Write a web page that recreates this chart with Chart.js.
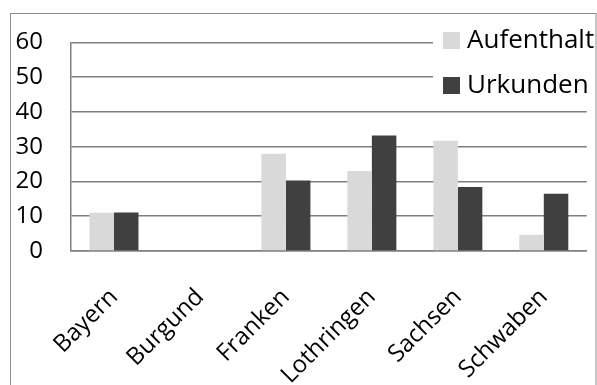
<!DOCTYPE html>
<html>
<head>
<meta charset="utf-8">
<script src="https://cdn.jsdelivr.net/npm/chart.js@4"></script>
<style>
  html, body { margin: 0; padding: 0; background: #fff; }
  #wrap { position: relative; width: 597px; height: 385px; }
</style>
</head>
<body>
<div id="wrap"><canvas id="c" width="597" height="385"></canvas></div>
<script>
// Regions and their two series (share of stays vs. share of charters)
const categories = ['Bayern', 'Burgund', 'Franken', 'Lothringen', 'Sachsen', 'Schwaben'];
const aufenthalt = [11, 0, 28, 23, 31.7, 4.7];
const urkunden = [11.1, 0, 20.3, 33.2, 18.4, 16.5];
const seriesNames = ['Aufenthalt', 'Urkunden'];
const yTicks = [0, 10, 20, 30, 40, 50, 60];

const FONT = '"Open Sans", "Noto Sans", sans-serif';
const LIGHT = '#d9d9d9';
const DARK = '#404040';
const GRID = '#7f7f7f';

// Outer frame around the whole chart
const framePlugin = {
  id: 'frame',
  beforeDraw(chart) {
    const ctx = chart.ctx;
    ctx.save();
    ctx.fillStyle = '#fff';
    ctx.fillRect(0, 0, chart.width, chart.height);
    ctx.strokeStyle = '#8c8c8c';
    ctx.lineWidth = 1;
    ctx.strokeRect(10.5, 13.5, 585.5, 400);
    ctx.restore();
  }
};

// Legend box in the upper-right corner, drawn over the grid
const cornerLegend = {
  id: 'cornerLegend',
  afterDatasetsDraw(chart) {
    const ctx = chart.ctx;
    const ds = chart.data.datasets;
    ctx.save();
    ctx.fillStyle = '#fff';
    ctx.fillRect(433, 14, 162, 91);
    ctx.font = '26px ' + FONT;
    ctx.textBaseline = 'middle';
    ctx.textAlign = 'left';
    ds.forEach((d, i) => {
      const cy = 40 + i * 45;
      ctx.fillStyle = d.backgroundColor;
      ctx.fillRect(443, cy - 8, 17, 17);
      ctx.fillStyle = '#000';
      ctx.fillText(d.label, 467, cy + 1);
    });
    ctx.restore();
  }
};

new Chart(document.getElementById('c'), {
  type: 'bar',
  data: {
    labels: categories,
    datasets: [
      { label: seriesNames[0], data: aufenthalt, backgroundColor: LIGHT },
      { label: seriesNames[1], data: urkunden, backgroundColor: DARK }
    ]
  },
  options: {
    responsive: false,
    animation: false,
    events: [],
    layout: { padding: { left: 10, right: 10, top: 36, bottom: 0 } },
    plugins: { legend: { display: false }, tooltip: { enabled: false } },
    datasets: { bar: { categoryPercentage: 0.57, barPercentage: 1 } },
    scales: {
      x: {
        grid: { display: false, drawTicks: false },
        border: { display: true, color: GRID, width: 1.5 },
        ticks: {
          color: '#000',
          font: { family: FONT, size: 24 },
          minRotation: 45,
          maxRotation: 45,
          padding: 32,
          autoSkip: false
        },
        afterFit(scale) { scale.height = 134; }
      },
      y: {
        min: 0,
        max: 60,
        afterBuildTicks(scale) { scale.ticks = yTicks.map(v => ({ value: v })); },
        grid: { color: GRID, lineWidth: 1.5, drawTicks: false },
        border: { display: true, color: GRID, width: 1.5 },
        ticks: {
          color: '#000',
          font: { family: FONT, size: 24 },
          padding: 28
        },
        afterFit(scale) { scale.width = 61; }
      }
    }
  },
  plugins: [framePlugin, cornerLegend]
});
</script>
</body>
</html>
